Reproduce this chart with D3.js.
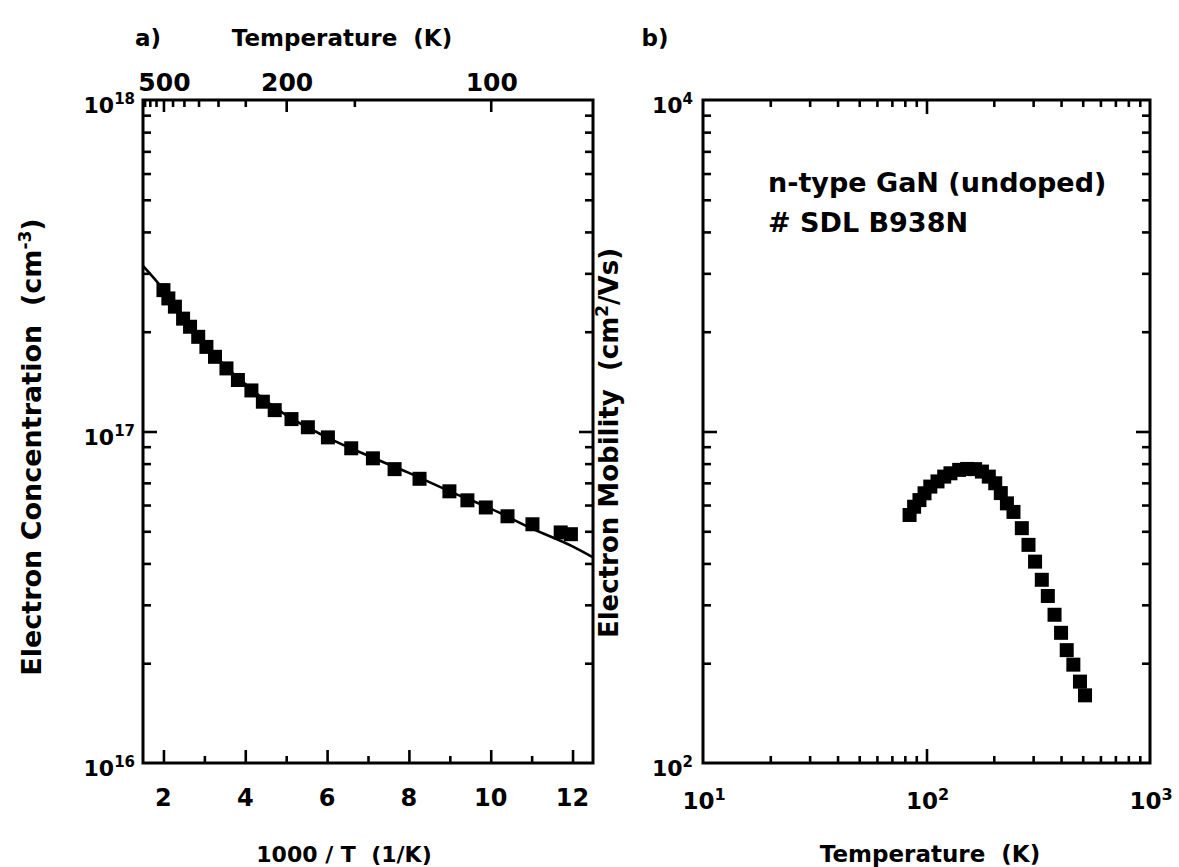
<!DOCTYPE html>
<html><head><meta charset="utf-8">
<script src="https://cdn.jsdelivr.net/npm/d3@7"></script>
<style>
html,body{margin:0;padding:0;background:#fff;}
svg{display:block;}
text{font-family:"DejaVu Sans","Liberation Sans",Arial,sans-serif;font-weight:bold;fill:#000;}
</style></head>
<body>
<svg id="chart" width="1179" height="867"></svg>
<script>
// ---- Panel a data: electron concentration vs 1000/T ----
const invT = [2.0,2.12,2.28,2.48,2.65,2.85,3.05,3.26,3.54,3.82,4.15,4.43,4.72,5.13,5.53,6.02,6.59,7.12,7.65,8.26,8.99,9.43,9.88,10.41,11.02,11.71,11.96];
const conc = [2.67e17,2.52e17,2.38e17,2.19e17,2.07e17,1.93e17,1.80e17,1.68e17,1.55e17,1.43e17,1.33e17,1.23e17,1.16e17,1.09e17,1.03e17,9.6e16,8.9e16,8.3e16,7.7e16,7.2e16,6.6e16,6.2e16,5.9e16,5.55e16,5.25e16,4.96e16,4.9e16];
const fitInvT = [1.5,2.0,2.5,3.0,3.5,4.0,5.0,6.0,7.0,8.0,9.0,10.0,11.0,12.0,12.5];
const fitConc = [3.16e17,2.68e17,2.2e17,1.85e17,1.58e17,1.39e17,1.12e17,9.6e16,8.45e16,7.5e16,6.6e16,5.85e16,5.1e16,4.5e16,4.17e16];

// ---- Panel b data: electron mobility vs temperature ----
const mobT  = [84,88,93,98,104,112,120,128,140,152,165,177,190,203,215,229,245,267,286,306,328,349,374,400,424,454,486,512];
const mobMu = [560,593,621,651,682,707,731,748,766,771,770,757,731,698,652,607,572,511,455,405,357,319,280,247,219,198,176,160];

// ---- tick values ----
const aBottomMajor = [2,4,6,8,10,12];
const aBottomMinor = [3,5,7,9,11];
const aTopTempsLabeled = [500,200,100];
const aTopTempsMinor = [650,600,550,450,400,350,300,250,150];
const aYMajor = [1e16,1e17,1e18];
const aYMinor = [2e16,3e16,4e16,5e16,6e16,7e16,8e16,9e16,2e17,3e17,4e17,5e17,6e17,7e17,8e17,9e17];
const bXMajor = [10,100,1000];
const bXMinor = [20,30,40,50,60,70,80,90,200,300,400,500,600,700,800,900];
const bYLabeled = [100,10000];
const bYMinor = [200,300,400,500,600,700,800,900,2000,3000,4000,5000,6000,7000,8000,9000];

const svg = d3.select("#chart");

const A = {l:143, r:593, t:100, b:763};
const B = {l:703, r:1150, t:100, b:763};

const xA = d3.scaleLinear().domain([1.5,12.5]).range([A.l,A.r]);
const yA = d3.scaleLog().domain([1e16,1e18]).range([A.b,A.t]);
const xB = d3.scaleLog().domain([10,1000]).range([B.l,B.r]);
const yB = d3.scaleLog().domain([100,10000]).range([B.b,B.t]);

function drawAxis(gen, tr, vals, size){
  const g = svg.append("g").attr("transform", tr)
    .call(gen.tickValues(vals).tickSize(size).tickFormat(""));
  g.select(".domain").remove();
  g.selectAll(".tick line").attr("stroke","#000").attr("stroke-width",2.6);
  return g;
}

function powLabel(x, y, exp, anchor, size, supSize){
  const t = svg.append("text").attr("x",x).attr("y",y).attr("font-size",size)
    .attr("text-anchor", anchor);
  t.append("tspan").text("10");
  t.append("tspan").attr("dy",-Math.round(size*0.4)).attr("font-size",supSize).text(exp);
  return t;
}

// ---------- Panel a ----------
drawAxis(d3.axisBottom(xA), `translate(0,${A.b})`, aBottomMajor, -13);
drawAxis(d3.axisBottom(xA), `translate(0,${A.b})`, aBottomMinor, -7);
drawAxis(d3.axisTop(xA), `translate(0,${A.t})`, aTopTempsLabeled.map(t=>1000/t), -12);
drawAxis(d3.axisTop(xA), `translate(0,${A.t})`, aTopTempsMinor.map(t=>1000/t), -7);
drawAxis(d3.axisLeft(yA), `translate(${A.l},0)`, [1e17], -14);
drawAxis(d3.axisLeft(yA), `translate(${A.l},0)`, aYMinor, -8);
drawAxis(d3.axisRight(yA), `translate(${A.r},0)`, [1e17], -14);
drawAxis(d3.axisRight(yA), `translate(${A.r},0)`, aYMinor, -8);

svg.append("rect").attr("x",A.l).attr("y",A.t).attr("width",A.r-A.l).attr("height",A.b-A.t)
  .attr("fill","none").attr("stroke","#000").attr("stroke-width",3);

const lineA = d3.line().x((d,i)=>xA(fitInvT[i])).y((d,i)=>yA(fitConc[i])).curve(d3.curveMonotoneX);
svg.append("path").datum(fitInvT).attr("d",lineA).attr("fill","none").attr("stroke","#000").attr("stroke-width",2.6);

const sq = 14;
svg.append("g").selectAll("rect").data(invT).join("rect")
  .attr("x",(d)=>xA(d)-sq/2).attr("y",(d,i)=>yA(conc[i])-sq/2)
  .attr("width",sq).attr("height",sq).attr("fill","#000");

svg.append("g").selectAll("text").data(aBottomMajor).join("text")
  .attr("x",d=>xA(d)).attr("y",A.b+43).attr("text-anchor","middle").attr("font-size",24).text(d=>d);
svg.append("g").selectAll("text").data(aTopTempsLabeled).join("text")
  .attr("x",d=>xA(1000/d)+1).attr("y",A.t-9).attr("text-anchor","middle").attr("font-size",25).text(d=>d);

aYMajor.forEach(v=>{
  powLabel(A.l-8, yA(v)+13, Math.round(Math.log10(v)), "end", 22, 15);
});

svg.append("text").attr("x",148).attr("y",46).attr("font-size",23).attr("text-anchor","middle").text("a)");
svg.append("text").attr("x",342).attr("y",46).attr("font-size",23).attr("text-anchor","middle").attr("xml:space","preserve").text("Temperature  (K)");
svg.append("text").attr("x",344).attr("y",862).attr("font-size",22).attr("text-anchor","middle").attr("xml:space","preserve").text("1000 / T  (1/K)");
{
  const t = svg.append("text").attr("transform",`translate(41,447) rotate(-90)`)
    .attr("font-size",27).attr("text-anchor","middle").attr("xml:space","preserve");
  t.append("tspan").text("Electron Concentration  (cm");
  t.append("tspan").attr("dy",-10).attr("font-size",17).text("-3");
  t.append("tspan").attr("dy",10).text(")");
}

// ---------- Panel b ----------
drawAxis(d3.axisBottom(xB), `translate(0,${B.b})`, [100], -14);
drawAxis(d3.axisBottom(xB), `translate(0,${B.b})`, bXMinor, -7);
drawAxis(d3.axisTop(xB), `translate(0,${B.t})`, [100], -14);
drawAxis(d3.axisTop(xB), `translate(0,${B.t})`, bXMinor, -7);
drawAxis(d3.axisLeft(yB), `translate(${B.l},0)`, [1000], -14);
drawAxis(d3.axisLeft(yB), `translate(${B.l},0)`, bYMinor, -8);
drawAxis(d3.axisRight(yB), `translate(${B.r},0)`, [1000], -14);
drawAxis(d3.axisRight(yB), `translate(${B.r},0)`, bYMinor, -8);

svg.append("rect").attr("x",B.l).attr("y",B.t).attr("width",B.r-B.l).attr("height",B.b-B.t)
  .attr("fill","none").attr("stroke","#000").attr("stroke-width",3);

svg.append("g").selectAll("rect").data(mobT).join("rect")
  .attr("x",d=>xB(d)-sq/2).attr("y",(d,i)=>yB(mobMu[i])-sq/2)
  .attr("width",sq).attr("height",sq).attr("fill","#000");

bXMajor.forEach(v=>{
  powLabel(xB(v)+1, B.b+46, Math.round(Math.log10(v)), "middle", 23, 16);
});
bYLabeled.forEach(v=>{
  powLabel(B.l-10, yB(v)+13, Math.round(Math.log10(v)), "end", 22, 15);
});

svg.append("text").attr("x",655).attr("y",46).attr("font-size",23).attr("text-anchor","middle").text("b)");
svg.append("text").attr("x",930).attr("y",862).attr("font-size",23).attr("text-anchor","middle").attr("xml:space","preserve").text("Temperature  (K)");
svg.append("text").attr("x",768).attr("y",192).attr("font-size",27).text("n-type GaN (undoped)");
svg.append("text").attr("x",768).attr("y",232).attr("font-size",27).text("# SDL B938N");
{
  const t = svg.append("text").attr("transform",`translate(618,443) rotate(-90)`)
    .attr("font-size",26).attr("text-anchor","middle").attr("xml:space","preserve");
  t.append("tspan").text("Electron Mobility  (cm");
  t.append("tspan").attr("dy",-10).attr("font-size",17).text("2");
  t.append("tspan").attr("dy",10).text("/Vs)");
}
</script>
</body></html>
